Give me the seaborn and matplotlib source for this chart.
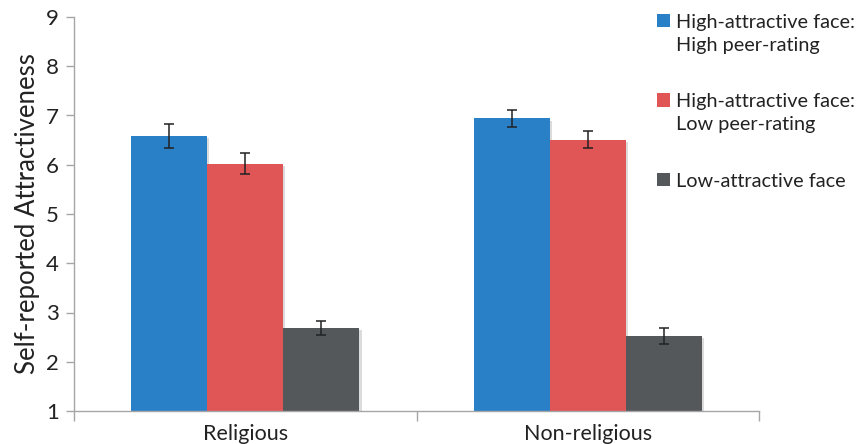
import matplotlib
matplotlib.use("Agg")
import matplotlib.pyplot as plt
import matplotlib.patheffects as pe
from matplotlib.patches import Patch
import numpy as np
import pandas as pd
import seaborn as sns

# Data
groups = ["Religious", "Non-religious"]
conditions = [
    "High-attractive face:\nHigh peer-rating",
    "High-attractive face:\nLow peer-rating",
    "Low-attractive face",
]
high_high = [6.58, 6.94]
high_low = [6.02, 6.51]
low_face = [2.69, 2.53]
err_high_high = [0.25, 0.17]
err_high_low = [0.21, 0.17]
err_low_face = [0.14, 0.16]
y_ticks = [1, 2, 3, 4, 5, 6, 7, 8, 9]

colors = ["#2A80C7", "#E05556", "#54585B"]

df = pd.DataFrame({
    "group": groups * 3,
    "condition": [c for c in conditions for _ in groups],
    "score": high_high + high_low + low_face,
})
errors = [err_high_high, err_high_low, err_low_face]

sns.set_theme(style="white")
plt.rcParams["font.family"] = ["Lato", "DejaVu Sans"]
text_color = "#222222"

fig = plt.figure(figsize=(8.64, 4.44), dpi=100)
ax = fig.add_axes([74 / 864, 33 / 444, 685 / 864, 394 / 444])

sns.barplot(data=df, x="group", y="score", hue="condition", order=groups,
            hue_order=conditions, palette=colors, width=0.667, errorbar=None,
            saturation=1, ax=ax, legend=False)

shadow = [pe.SimplePatchShadow(offset=(1.5, -1.5), shadow_rgbFace="#999999", alpha=0.35),
          pe.Normal()]
for container, err in zip(ax.containers, errors):
    xs, ys = [], []
    for bar in container:
        bar.set_linewidth(0)
        bar.set_path_effects(shadow)
        xs.append(bar.get_x() + bar.get_width() / 2)
        ys.append(bar.get_height())
    ax.errorbar(xs, ys, yerr=err, fmt="none", ecolor=text_color,
                elinewidth=1.1, capsize=3.3, capthick=1.1, zorder=5)

ax.set_ylim(1, 9)
ax.set_xlim(-0.5, 1.5)
ax.set_yticks(y_ticks)
ax.set_xticks([0, 1])
ax.set_xticklabels(groups)
ax.set_xticks([-0.5, 0.5, 1.5], minor=True)
ax.tick_params(axis="x", which="major", length=0, pad=9, labelsize=15.5,
               labelcolor=text_color)
ax.tick_params(axis="x", which="minor", length=7, width=1, color="#A6A6A6",
               direction="out", bottom=True)
ax.tick_params(axis="y", which="major", length=6, width=1, color="#A6A6A6",
               direction="out", left=True, pad=5, labelsize=16, labelcolor=text_color)
ax.set_xlabel("")
ax.set_ylabel("Self-reported Attractiveness", fontsize=18.5, color=text_color, labelpad=4)

for side in ["top", "right"]:
    ax.spines[side].set_visible(False)
for side in ["left", "bottom"]:
    ax.spines[side].set_color("#A6A6A6")
    ax.spines[side].set_linewidth(1)

handles = [Patch(facecolor=c, edgecolor="none") for c in colors]
leg = fig.legend(handles, conditions, loc="upper left", bbox_to_anchor=(657 / 864, 1 - 14 / 444),
                 frameon=False, fontsize=14.3, handlelength=0.65, handleheight=0.65,
                 handletextpad=0.3, labelspacing=2.0, labelcolor=text_color,
                 borderpad=0, borderaxespad=0)
for text in leg.get_texts():
    text.set_linespacing(1.4)
# keep each swatch beside the first line of its label
for column in leg._legend_handle_box.get_children():
    for row in column.get_children():
        row.align = "top"

fig.savefig("out.png", dpi=100)
